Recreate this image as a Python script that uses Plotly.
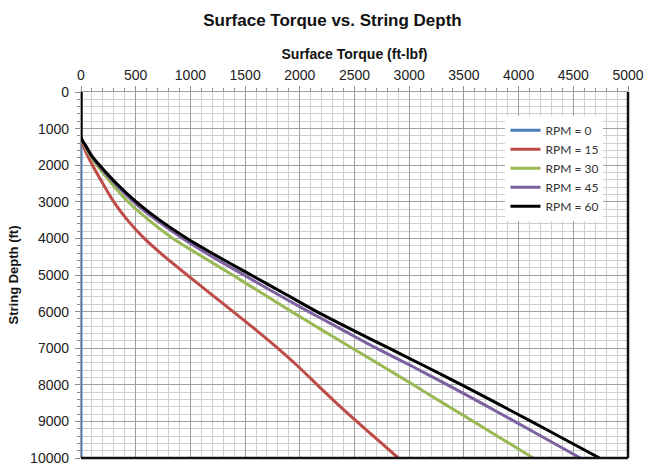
import plotly.graph_objects as go

depth = [0, 1000, 1200, 1300, 1500, 1750, 2000, 2500, 3000, 3500, 4000, 4500,
         5000, 5500, 6000, 6500, 7000, 7500, 8000, 8500, 9000, 9500, 10000]

rpm0 = [0] * len(depth)
rpm15 = [0, 0, 0, 4, 26, 62, 105, 200, 300, 425, 578, 765, 970, 1180, 1390,
         1598, 1798, 1985, 2160, 2335, 2520, 2710, 2900]
rpm30 = [0, 0, 0, 6, 40, 85, 145, 280, 430, 620, 840, 1110, 1385, 1655, 1925,
         2200, 2480, 2760, 3037, 3310, 3585, 3860, 4133]
rpm45 = [0, 0, 0, 7, 46, 96, 160, 310, 480, 690, 930, 1200, 1490, 1780, 2080,
         2390, 2700, 3030, 3350, 3660, 3963, 4265, 4565]
rpm60 = [0, 0, 0, 8, 50, 100, 170, 325, 505, 720, 970, 1255, 1555, 1855, 2155,
         2480, 2815, 3150, 3480, 3800, 4115, 4428, 4740]

series = [
    ("RPM = 0", rpm0, "#4a7ebb"),
    ("RPM = 15", rpm15, "#be4b48"),
    ("RPM = 30", rpm30, "#98b954"),
    ("RPM = 45", rpm45, "#7d60a0"),
    ("RPM = 60", rpm60, "#000000"),
]

x_ticks = list(range(0, 5001, 500))
y_ticks = list(range(0, 10001, 1000))

fig = go.Figure()
for name, vals, color in series:
    fig.add_trace(go.Scatter(
        x=vals, y=depth, mode="lines", name=name,
        line=dict(color=color, width=3, shape="spline", smoothing=0.8),
    ))

axfont = dict(family="Liberation Sans, Arial, sans-serif", size=14, color="#222222")

fig.update_layout(
    width=652, height=474,
    margin=dict(l=81, r=19, t=92, b=8),
    paper_bgcolor="white", plot_bgcolor="white",
    title=dict(text="<b>Surface Torque vs. String Depth</b>",
               font=dict(family="Liberation Sans, Arial, sans-serif", size=17, color="#111111"),
               x=0.51, xanchor="center", y=0.958, yanchor="middle"),
    showlegend=True,
    legend=dict(x=0.776, y=0.935, xanchor="left", yanchor="top",
                bgcolor="white", bordercolor="#ffffff", borderwidth=0,
                font=dict(family="Lato, Carlito, sans-serif", size=12, color="#333333"),
                itemwidth=30, tracegroupgap=4, entrywidth=85),
    xaxis=dict(
        side="top", range=[0, 5000], tickvals=x_ticks, ticktext=[str(v) for v in x_ticks],
        tickfont=axfont, showgrid=True, gridcolor="#a0a0a0", gridwidth=1.3,
        ticks="outside", ticklen=5, tickcolor="#8c8c8c",
        minor=dict(dtick=100, showgrid=True, gridcolor="#cfcfcf", gridwidth=1.3,
                   ticks="outside", ticklen=3, tickcolor="#8c8c8c"),
        showline=True, linecolor="#a0a0a0", linewidth=1.3, zeroline=False,
        title=dict(text="<b>Surface Torque (ft-lbf)</b>",
                   font=dict(family="Liberation Sans, Arial, sans-serif", size=14, color="#111111"),
                   standoff=4),
    ),
    yaxis=dict(
        range=[10000, 0], tickvals=y_ticks, ticktext=[str(v) for v in y_ticks],
        tickfont=axfont, showgrid=True, gridcolor="#a0a0a0", gridwidth=1.3,
        ticks="outside", ticklen=5, tickcolor="#8c8c8c", ticklabelstandoff=3,
        minor=dict(dtick=200, showgrid=True, gridcolor="#cfcfcf", gridwidth=1.3,
                   ticks="outside", ticklen=3, tickcolor="#8c8c8c"),
        showline=True, linecolor="#a0a0a0", linewidth=1.3, zeroline=False,
        title=dict(text="<b>String Depth (ft)</b>",
                   font=dict(family="Liberation Sans, Arial, sans-serif", size=13, color="#111111"),
                   standoff=8),
    ),
    shapes=[
        dict(type="line", xref="paper", yref="paper", x0=0, x1=1, y0=0, y1=0,
             line=dict(color="#111111", width=2.5), layer="above"),
        dict(type="line", xref="paper", yref="paper", x0=1, x1=1, y0=0, y1=1,
             line=dict(color="#111111", width=2.5), layer="above"),
    ],
)

fig.write_html("out.html")
